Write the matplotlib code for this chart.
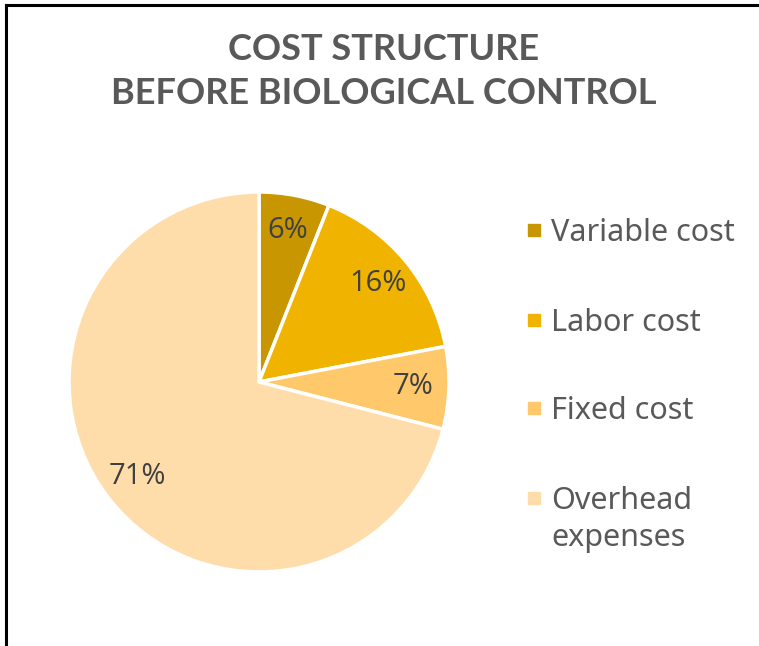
import matplotlib.pyplot as plt
from matplotlib.patches import Rectangle

labels = ['Variable cost', 'Labor cost', 'Fixed cost', 'Overhead\nexpenses']
shares = [6, 16, 7, 71]
colors = ['#C89600', '#F0B400', '#FFC96B', '#FFDDAA']

fig = plt.figure(figsize=(7.59, 6.46), dpi=100)

# border of the chart box (right/bottom cut off in the reference)
fig.add_artist(plt.Line2D([0.008, 0.008], [0.0, 0.992], color='black', lw=2.2, transform=fig.transFigure))
fig.add_artist(plt.Line2D([0.008, 1.0], [0.992, 0.992], color='black', lw=2.2, transform=fig.transFigure))

fig.text(0.505, 1 - 49 / 646, 'COST STRUCTURE', ha='center', va='center',
         fontsize=26, fontweight='bold', color='#595959', family='Lato')
fig.text(0.505, 1 - 93 / 646, 'BEFORE BIOLOGICAL CONTROL', ha='center', va='center',
         fontsize=26, fontweight='bold', color='#595959', family='Lato')

ax = fig.add_axes([0.0909, 0.1146, 0.5007, 0.5882])
wedges, texts, pcts = ax.pie(shares, colors=colors, startangle=90, counterclock=False,
                             autopct='%1.0f%%', pctdistance=0.81,
                             wedgeprops=dict(edgecolor='white', linewidth=2.5),
                             textprops=dict(fontsize=21, color='#404040', family='Open Sans'))
ax.set_xlim(-1, 1)
ax.set_ylim(-1, 1)

# legend drawn by hand so the marker sits on the first text line
leg_y = [230, 320, 408, 498]
for lab, col, y in zip(labels, colors, leg_y):
    yf = 1 - y / 646
    fig.add_artist(Rectangle((528 / 759, yf - 6 / 646), 12 / 759, 12 / 646,
                             color=col, transform=fig.transFigure))
    fig.text(551 / 759, yf + 12 / 646, lab, ha='left', va='top', fontsize=22,
             color='#595959', family='Noto Sans', linespacing=1.3)

fig.savefig('out.png', dpi=100)
